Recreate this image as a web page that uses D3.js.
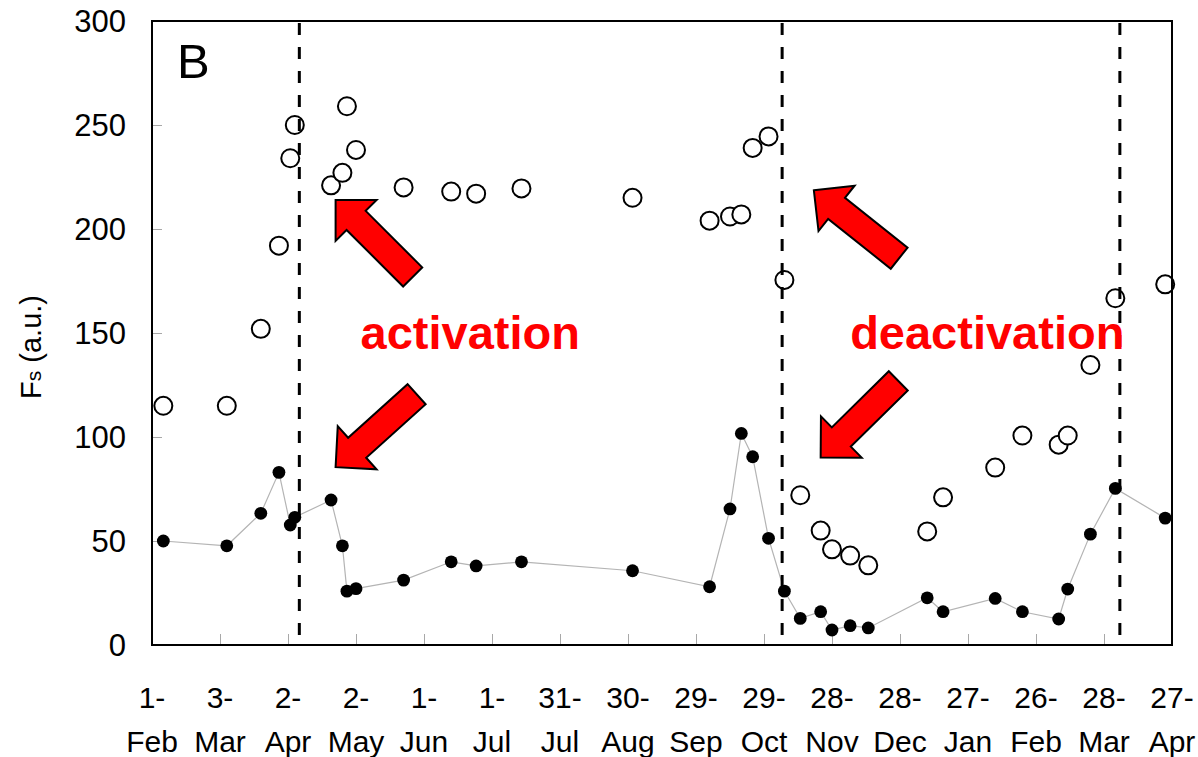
<!DOCTYPE html>
<html>
<head>
<meta charset="utf-8">
<script src="https://cdn.jsdelivr.net/npm/d3@7"></script>
<style>
  html, body { margin: 0; padding: 0; background: #fff; }
  svg { display: block; font-family: "Liberation Sans", Arial, sans-serif; }
</style>
</head>
<body>
<svg id="chart" width="1198" height="757"></svg>
<script>
// sampling dates, shared by both series
const sampleDates = [
  '2005-02-06', '2005-03-06', '2005-03-21', '2005-03-29', '2005-04-03', '2005-04-05',
  '2005-04-21', '2005-04-26', '2005-04-28', '2005-05-02', '2005-05-23', '2005-06-13',
  '2005-06-24', '2005-07-14', '2005-09-01', '2005-10-05', '2005-10-14', '2005-10-19',
  '2005-10-24', '2005-10-31', '2005-11-07', '2005-11-14', '2005-11-23', '2005-11-28',
  '2005-12-06', '2005-12-14', '2006-01-09', '2006-01-16', '2006-02-08', '2006-02-20',
  '2006-03-08', '2006-03-12', '2006-03-22', '2006-04-02', '2006-04-24'
];

// open circles
const fsOpen = [
  115, 115, 152, 192, 234, 250,
  221, 227, 259, 238, 220, 218,
  217, 219.5, 215, 204, 206, 207,
  239, 244.5, 175.5, 72, 55, 46,
  43, 38.3, 54.6, 71, 85.3, 100.7,
  96.3, 100.7, 134.6, 166.7, 173.4
];

// filled circles (joined by a thin grey line)
const fsFilled = [
  50, 47.7, 63.3, 83, 57.7, 61.4,
  69.7, 47.7, 25.9, 27.1, 31.2, 40,
  38, 40, 35.7, 28, 65.4, 101.7,
  90.5, 51.3, 25.9, 12.8, 16, 7.2,
  9.3, 8.2, 22.7, 16, 22.4, 16,
  12.5, 26.9, 53.3, 75.3, 61
];

// dashed phase boundaries
const phaseDates = ['2005-04-07', '2005-11-06', '2006-04-04'];

const xTickDates = [
  '2005-02-01', '2005-03-03', '2005-04-02', '2005-05-02', '2005-06-01', '2005-07-01',
  '2005-07-31', '2005-08-30', '2005-09-29', '2005-10-29', '2005-11-28', '2005-12-28',
  '2006-01-27', '2006-02-26', '2006-03-28', '2006-04-27'
];
const yTicks = [0, 50, 100, 150, 200, 250, 300];

// annotations: arrow tips (date, value) and direction of the tail
const arrows = [
  { date: '2005-04-23', value: 214, angle: 45 },
  { date: '2005-04-23', value: 85.5, angle: -42 },
  { date: '2005-11-20', value: 218.6, angle: 38.5 },
  { date: '2005-11-23', value: 90.2, angle: -44.6 }
];
const labels = [
  { text: 'activation', date: '2005-05-04', value: 142.5 },
  { text: 'deactivation', date: '2005-12-06', value: 142.2 }
];

const parse = d3.utcParse('%Y-%m-%d');
const margin = { top: 21, right: 26, bottom: 112, left: 152 };
const width = 1198, height = 757;

const svg = d3.select('#chart');

const x = d3.scaleUtc()
  .domain([parse(xTickDates[0]), parse(xTickDates[xTickDates.length - 1])])
  .range([margin.left, width - margin.right]);
const y = d3.scaleLinear()
  .domain([0, 300])
  .range([height - margin.bottom, margin.top]);

const x0 = x.range()[0], x1 = x.range()[1];
const y0 = y.range()[0], y1 = y.range()[1];

// axes with inward ticks
const xAxis = svg.append('g')
  .attr('transform', `translate(0,${y0})`)
  .call(d3.axisBottom(x).tickValues(xTickDates.map(parse)).tickSize(-11).tickFormat(''));
xAxis.select('.domain').remove();
xAxis.selectAll('.tick line').attr('stroke', '#a8a8a8').attr('stroke-width', 1);

const yAxis = svg.append('g')
  .attr('transform', `translate(${x0},0)`)
  .call(d3.axisLeft(y).tickValues(yTicks).tickSize(-10).tickFormat(''));
yAxis.select('.domain').remove();
yAxis.selectAll('.tick line').attr('stroke', '#a8a8a8').attr('stroke-width', 1);

// y tick labels
svg.append('g').selectAll('text')
  .data(yTicks)
  .join('text')
  .attr('x', 126)
  .attr('y', d => y(d))
  .attr('dy', '0.36em')
  .attr('text-anchor', 'end')
  .attr('font-size', 31)
  .attr('fill', '#000')
  .text(d => d);

// x tick labels on two lines
const fmtDay = d3.utcFormat('%-d-');
const fmtMon = d3.utcFormat('%b');
const xl = svg.append('g').selectAll('text')
  .data(xTickDates.map(parse))
  .join('text')
  .attr('text-anchor', 'middle')
  .attr('font-size', 30)
  .attr('fill', '#000');
xl.append('tspan').attr('x', d => x(d)).attr('y', 708).text(fmtDay);
xl.append('tspan').attr('x', d => x(d)).attr('y', 752).text(fmtMon);

// y axis title
const yTitle = svg.append('text')
  .attr('transform', `translate(41,${(y0 + y1) / 2 + 14}) rotate(-90)`)
  .attr('text-anchor', 'middle')
  .attr('font-size', 29)
  .attr('fill', '#000');
yTitle.append('tspan').text('F');
yTitle.append('tspan').attr('font-size', 21).text('s');
yTitle.append('tspan').text(' (a.u.)');

// panel letter
svg.append('text')
  .attr('x', x(d3.utcDay.offset(parse(xTickDates[0]), 11)))
  .attr('y', y(272.5))
  .attr('font-size', 49)
  .attr('fill', '#000')
  .text('B');

// filled series
const lowPts = sampleDates.map((d, i) => [x(parse(d)), y(fsFilled[i])]);
svg.append('path')
  .attr('d', d3.line()(lowPts))
  .attr('fill', 'none')
  .attr('stroke', '#b4b4b4')
  .attr('stroke-width', 1.2);
svg.append('g').selectAll('circle')
  .data(lowPts)
  .join('circle')
  .attr('cx', d => d[0])
  .attr('cy', d => d[1])
  .attr('r', 6.4)
  .attr('fill', '#000');

// open series
svg.append('g').selectAll('circle')
  .data(sampleDates)
  .join('circle')
  .attr('cx', d => x(parse(d)))
  .attr('cy', (d, i) => y(fsOpen[i]))
  .attr('r', 9)
  .attr('fill', '#fff')
  .attr('stroke', '#000')
  .attr('stroke-width', 2);

// phase lines
svg.append('g').selectAll('line')
  .data(phaseDates)
  .join('line')
  .attr('x1', d => x(parse(d)))
  .attr('x2', d => x(parse(d)))
  .attr('y1', y1 + 2)
  .attr('y2', y0)
  .attr('stroke', '#000')
  .attr('stroke-width', 3)
  .attr('stroke-dasharray', '12,12');

// plot frame
svg.append('rect')
  .attr('x', x0)
  .attr('y', y1)
  .attr('width', x1 - x0)
  .attr('height', y0 - y1)
  .attr('fill', 'none')
  .attr('stroke', '#000')
  .attr('stroke-width', 2);

// red block arrows
function arrowShape(len, headLen, headW, shaftW) {
  return [
    [0, 0], [headLen, -headW / 2], [headLen, -shaftW / 2], [len, -shaftW / 2],
    [len, shaftW / 2], [headLen, shaftW / 2], [headLen, headW / 2]
  ];
}
const shape = arrowShape(109, 29, 58, 27);
svg.append('g').selectAll('path')
  .data(arrows)
  .join('path')
  .attr('transform', d => `translate(${x(parse(d.date))},${y(d.value)}) rotate(${d.angle})`)
  .attr('d', d3.line()(shape) + 'Z')
  .attr('fill', '#ff0000')
  .attr('stroke', '#000')
  .attr('stroke-width', 2)
  .attr('stroke-linejoin', 'miter');

svg.append('g').selectAll('text')
  .data(labels)
  .join('text')
  .attr('x', d => x(parse(d.date)))
  .attr('y', d => y(d.value))
  .attr('font-size', 47)
  .attr('font-weight', 'bold')
  .attr('fill', '#ff0000')
  .text(d => d.text);
</script>
</body>
</html>
